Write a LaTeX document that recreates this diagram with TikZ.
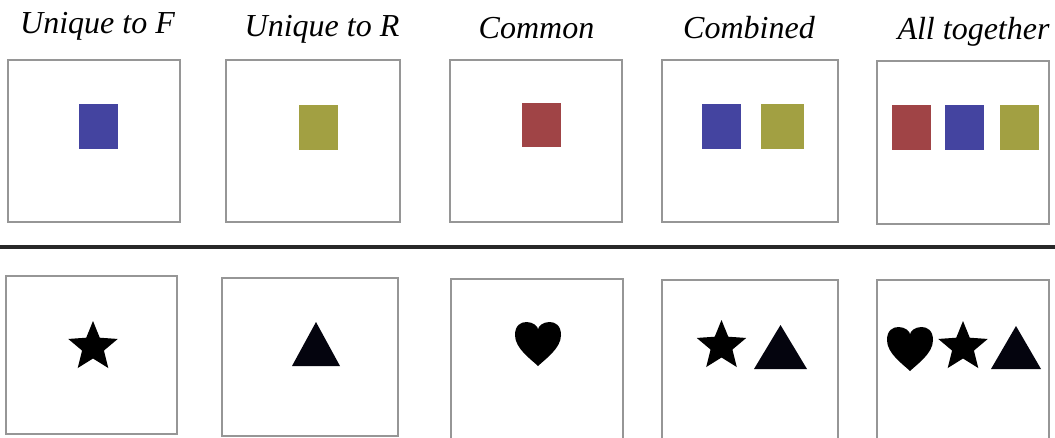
\documentclass[tikz,border=0pt]{standalone}
\usepackage{fontspec}
\setmainfont{Liberation Serif}
\definecolor{cblue}{RGB}{68,68,160}
\definecolor{colive}{RGB}{162,160,66}
\definecolor{cred}{RGB}{160,68,70}
\definecolor{framegray}{RGB}{150,150,150}
\definecolor{rulegray}{RGB}{40,40,40}
\definecolor{trishade}{RGB}{4,4,14}
\begin{document}
\begin{tikzpicture}[x=1pt,y=-1pt,
  frame/.style={draw=framegray,line width=1.1pt},
  lbl/.style={font=\fontsize{32}{38}\selectfont\itshape,anchor=base,inner sep=0pt},
  starpic/.pic={\fill[black,yscale=-1] (90:26) -- (126:11.5) -- (162:26) -- (198:11.5) -- (234:26) -- (270:11.5) -- (306:26) -- (342:11.5) -- (18:26) -- (54:11.5) -- cycle;},
  heartpic/.pic={\fill[black,xscale=46,yscale=-44] (0,-0.5) .. controls (-0.15,-0.35) and (-0.5,-0.1) .. (-0.5,0.2) .. controls (-0.5,0.42) and (-0.38,0.5) .. (-0.25,0.5) .. controls (-0.1,0.5) and (0,0.4) .. (0,0.33) .. controls (0,0.4) and (0.1,0.5) .. (0.25,0.5) .. controls (0.38,0.5) and (0.5,0.42) .. (0.5,0.2) .. controls (0.5,-0.1) and (0.15,-0.35) .. (0,-0.5) -- cycle;}
]
\clip (0,0) rectangle (1055,437);
\fill[white] (0,0) rectangle (1055,437);

% labels
\node[lbl] (l1) at (97.5,33) {Unique to F};
\node[lbl] (l2) at (322,36) {Unique to R};
\node[lbl] (l3) at (536.5,38) {Common};
\node[lbl] (l4) at (749,38) {Combined};
\node[lbl] (l5) at (973.5,39) {All together};

% top frames
\draw[frame] (8,60) rectangle (180,222);
\draw[frame] (226,60) rectangle (400,222);
\draw[frame] (450,60) rectangle (622,222);
\draw[frame] (662,60) rectangle (838,222);
\draw[frame] (877,61) rectangle (1049,224);

% squares
\fill[cblue] (79,104) rectangle (118,149);
\fill[colive] (299,105) rectangle (338,150);
\fill[cred] (522,103) rectangle (561,147);
\fill[cblue] (702,104) rectangle (741,149);
\fill[colive] (761,104) rectangle (804,149);
\fill[cred] (892,105) rectangle (931,150);
\fill[cblue] (945,105) rectangle (984,150);
\fill[colive] (1000,105) rectangle (1039,150);

% separator
\draw[rulegray,line width=4pt] (0,247) -- (1055,247);

% bottom frames
\draw[frame] (6,276) rectangle (177,434);
\draw[frame] (222,278) rectangle (398,436);
\draw[frame] (451,279) rectangle (623,445);
\draw[frame] (662,280) rectangle (838,445);
\draw[frame] (877,280) rectangle (1049,445);

% symbols
\pic at (93,347) {starpic};
\fill[trishade] (316,322) -- (292,366) -- (340,366) -- cycle;
\pic at (538,344) {heartpic};
\pic at (721.5,346) {starpic};
\fill[trishade] (780.5,325) -- (754,369) -- (807,369) -- cycle;
\pic at (910,349) {heartpic};
\pic at (963,347) {starpic};
\fill[trishade] (1016,326) -- (991,369) -- (1041,369) -- cycle;
\end{tikzpicture}
\end{document}
